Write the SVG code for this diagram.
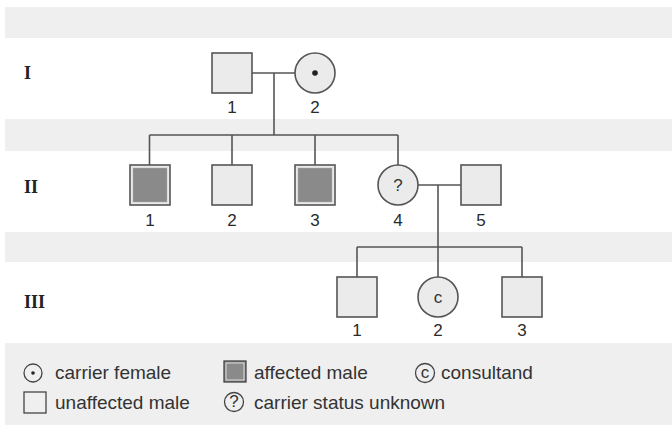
<svg xmlns="http://www.w3.org/2000/svg" width="672" height="426" viewBox="0 0 672 426">
<style>
.band{fill:#efefef}
.sym{fill:#ebebeb;stroke:#555;stroke-width:1.6}
.aff{fill:#8a8a8a;stroke:#dcdcdc;stroke-width:1.2}
.ln{stroke:#555;stroke-width:1.6;fill:none}
.num{font-family:"Liberation Sans",Arial,sans-serif;font-size:17px;fill:#2a2a2a;text-anchor:middle}
.gen{font-family:"Liberation Serif","Times New Roman",serif;font-size:18px;font-weight:bold;fill:#222}
.leg{font-family:"Liberation Sans",Arial,sans-serif;font-size:19px;fill:#333}
.inner{font-family:"Liberation Sans",Arial,sans-serif;font-size:17px;fill:#333;text-anchor:middle}
.lsym{fill:none;stroke:#444;stroke-width:1.3}
</style>
<rect width="672" height="426" fill="#ffffff"/>
<g id="bands">
<rect class="band" x="5" y="7" width="667" height="31"/>
<rect class="band" x="5" y="119" width="667" height="32"/>
<rect class="band" x="5" y="232" width="667" height="30"/>
<rect class="band" x="5" y="343" width="667" height="82"/>
</g>
<g id="generations">
<text class="gen" x="24" y="79">I</text>
<text class="gen" x="24" y="193">II</text>
<text class="gen" x="24" y="308">III</text>
</g>
<g id="connectors">
<line class="ln" x1="252" y1="73" x2="295" y2="73"/>
<line class="ln" x1="274" y1="73" x2="274" y2="135"/>
<line class="ln" x1="149.5" y1="135" x2="398" y2="135"/>
<line class="ln" x1="149.5" y1="135" x2="149.5" y2="165"/>
<line class="ln" x1="232" y1="135" x2="232" y2="165"/>
<line class="ln" x1="315" y1="135" x2="315" y2="165"/>
<line class="ln" x1="398" y1="135" x2="398" y2="165"/>
<line class="ln" x1="418" y1="185" x2="461" y2="185"/>
<line class="ln" x1="438" y1="185" x2="438" y2="247"/>
<line class="ln" x1="357" y1="247" x2="522" y2="247"/>
<line class="ln" x1="357" y1="247" x2="357" y2="277"/>
<line class="ln" x1="438" y1="247" x2="438" y2="277"/>
<line class="ln" x1="522" y1="247" x2="522" y2="277"/>
</g>
<g id="I-1"><rect class="sym" x="212" y="53" width="40" height="40"/><text class="num" x="232" y="113">1</text></g>
<g id="I-2"><circle class="sym" cx="315" cy="73" r="20"/><circle cx="315" cy="73" r="2.8" fill="#222"/><text class="num" x="315" y="113">2</text></g>
<g id="II-1"><rect class="sym" x="130" y="165" width="40" height="40"/><rect class="aff" x="132.5" y="167.5" width="35" height="35"/><text class="num" x="150" y="226">1</text></g>
<g id="II-2"><rect class="sym" x="212" y="165" width="40" height="40"/><text class="num" x="232" y="226">2</text></g>
<g id="II-3"><rect class="sym" x="295" y="165" width="40" height="40"/><rect class="aff" x="297.5" y="167.5" width="35" height="35"/><text class="num" x="315" y="226">3</text></g>
<g id="II-4"><circle class="sym" cx="398" cy="185" r="20"/><text class="inner" x="398" y="191">?</text><text class="num" x="398" y="226">4</text></g>
<g id="II-5"><rect class="sym" x="461" y="165" width="40" height="40"/><text class="num" x="481" y="226">5</text></g>
<g id="III-1"><rect class="sym" x="337" y="277" width="40" height="40"/><text class="num" x="357" y="336">1</text></g>
<g id="III-2"><circle class="sym" cx="438" cy="297" r="20"/><text class="inner" x="438" y="302.5">c</text><text class="num" x="438" y="336">2</text></g>
<g id="III-3"><rect class="sym" x="502" y="277" width="40" height="40"/><text class="num" x="522" y="336">3</text></g>
<g id="legend">
<g id="leg-carrier"><circle class="lsym" cx="33" cy="373" r="9"/><circle cx="33" cy="373" r="1.8" fill="#222"/><text class="leg" x="55" y="379">carrier female</text></g>
<g id="leg-affected"><rect x="224" y="361" width="22" height="21" fill="#8a8a8a" stroke="#444" stroke-width="1.3"/><rect x="226" y="363" width="18" height="17" fill="none" stroke="#dcdcdc" stroke-width="1"/><text class="leg" x="254" y="379">affected male</text></g>
<g id="leg-consultand"><circle class="lsym" cx="425" cy="373" r="9.5"/><text class="inner" x="425" y="378" font-size="14">c</text><text class="leg" x="441" y="379">consultand</text></g>
<g id="leg-unaffected"><rect class="lsym" x="24" y="392" width="22" height="21"/><text class="leg" x="55" y="409">unaffected male</text></g>
<g id="leg-unknown"><circle class="lsym" cx="234" cy="402" r="9.5"/><text class="inner" x="234" y="407" font-size="14">?</text><text class="leg" x="254" y="409">carrier status unknown</text></g>
</g>
</svg>
